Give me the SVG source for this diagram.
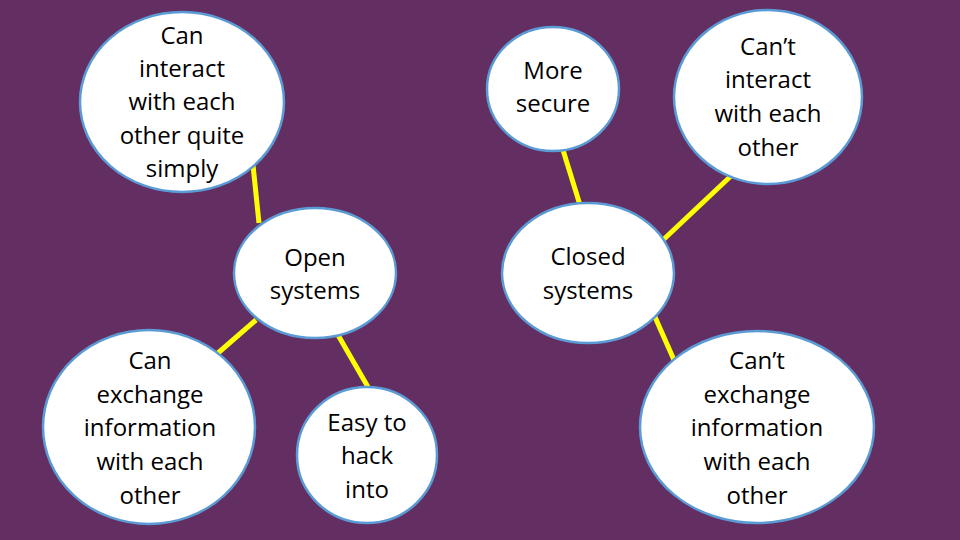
<svg xmlns="http://www.w3.org/2000/svg" width="960" height="540" viewBox="0 0 960 540">
<style>
.n{fill:#ffffff;stroke:#5B9BD5;stroke-width:2.5}
.t{font-family:"Open Sans",Lato,sans-serif;font-size:24px;fill:#000;text-anchor:middle}
.c{stroke:#FFFF00;stroke-width:5;fill:none}
</style>
<rect width="960" height="540" fill="#632E62"/>
<g id="connectors">
<line class="c" x1="253" y1="165" x2="259" y2="223"/>
<line class="c" x1="256" y1="320" x2="218" y2="353"/>
<line class="c" x1="338" y1="335" x2="368" y2="387"/>
<line class="c" x1="563" y1="150" x2="580" y2="205"/>
<line class="c" x1="732" y1="175" x2="663" y2="240"/>
<line class="c" x1="655" y1="317" x2="674" y2="360"/>
</g>
<g id="n1"><ellipse class="n" cx="182" cy="102" rx="102" ry="90"/>
<text class="t"><tspan x="182" y="44">Can</tspan><tspan x="182" y="77">interact</tspan><tspan x="182" y="110">with each</tspan><tspan x="182" y="144">other quite</tspan><tspan x="182" y="177">simply</tspan></text></g>
<g id="open"><ellipse class="n" cx="315" cy="273" rx="81" ry="65"/>
<text class="t"><tspan x="315" y="266">Open</tspan><tspan x="315" y="299">systems</tspan></text></g>
<g id="secure"><ellipse class="n" cx="553" cy="89" rx="66" ry="62"/>
<text class="t"><tspan x="553" y="79">More</tspan><tspan x="553" y="112">secure</tspan></text></g>
<g id="cantinteract"><ellipse class="n" cx="768" cy="97" rx="94" ry="87"/>
<text class="t"><tspan x="768" y="55">Can’t</tspan><tspan x="768" y="88">interact</tspan><tspan x="768" y="122">with each</tspan><tspan x="768" y="156">other</tspan></text></g>
<g id="closed"><ellipse class="n" cx="588" cy="273" rx="86" ry="70"/>
<text class="t"><tspan x="588" y="265">Closed</tspan><tspan x="588" y="299">systems</tspan></text></g>
<g id="canexchange"><ellipse class="n" cx="149" cy="427" rx="106" ry="97"/>
<text class="t"><tspan x="150" y="369">Can</tspan><tspan x="150" y="403">exchange</tspan><tspan x="150" y="436">information</tspan><tspan x="150" y="470">with each</tspan><tspan x="150" y="504">other</tspan></text></g>
<g id="hack"><ellipse class="n" cx="367" cy="455" rx="70" ry="68"/>
<text class="t"><tspan x="367" y="431">Easy to</tspan><tspan x="367" y="464">hack</tspan><tspan x="367" y="498">into</tspan></text></g>
<g id="cantexchange"><ellipse class="n" cx="757" cy="427" rx="117" ry="96"/>
<text class="t"><tspan x="757" y="369">Can’t</tspan><tspan x="757" y="403">exchange</tspan><tspan x="757" y="436">information</tspan><tspan x="757" y="470">with each</tspan><tspan x="757" y="504">other</tspan></text></g>
</svg>
